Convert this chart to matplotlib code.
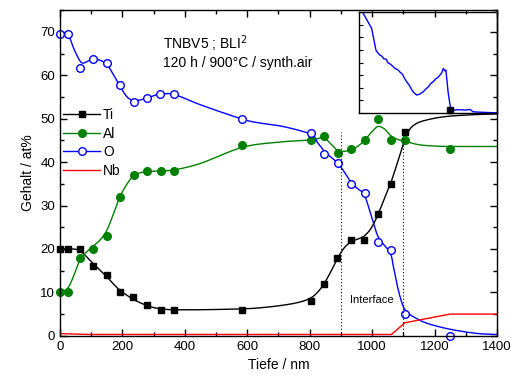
import matplotlib
matplotlib.use("Agg")
import matplotlib.pyplot as plt
import numpy as np
from matplotlib.ticker import MultipleLocator

plt.rcParams['font.family'] = ['Liberation Sans', 'DejaVu Sans']

# measured points
ti_x = [0, 25, 64, 107, 150, 192, 235, 278, 322, 365, 584, 803, 846, 889, 932, 975, 1018, 1061, 1104, 1250]
ti_y = [20, 20, 20, 16, 14, 10, 9, 7, 6, 6, 6, 8, 12, 18, 22, 22, 28, 35, 47, 52]

al_x = [0, 25, 64, 107, 150, 192, 237, 279, 322, 365, 584, 804, 847, 891, 933, 976, 1019, 1061, 1104, 1250]
al_y = [10, 10, 18, 20, 23, 32, 37, 38, 38, 38, 44, 45, 46, 42, 43, 45, 50, 45, 45, 43]

o_x = [0, 25, 64, 107, 150, 192, 236, 279, 321, 365, 584, 804, 847, 891, 933, 976, 1018, 1061, 1105, 1250]
o_y = [69.4, 69.4, 61.6, 63.8, 62.8, 57.7, 53.8, 54.8, 55.7, 55.7, 49.9, 46.8, 41.8, 39.7, 34.9, 32.8, 21.7, 19.7, 5, 0]

nb_x = [0, 100, 1062, 1105, 1250, 1400]
nb_y = [0.5, 0.3, 0.3, 3, 5, 5]

# fitted guide curves
ti_fit_x = [0, 40, 64, 85, 107, 130, 150, 170, 192, 215, 235, 257, 278, 300, 322, 345, 365, 450, 584, 650,
            720, 770, 803, 825, 846, 868, 889, 910, 932, 955, 975, 997, 1018, 1040, 1061, 1084, 1104, 1121,
            1140, 1164, 1207, 1250, 1292, 1350, 1400]
ti_fit_y = [20, 20, 19.6, 18.2, 16.6, 15, 13.6, 12, 10.5, 9.3, 8.4, 7.6, 7, 6.5, 6.2, 6.05, 6, 6, 6.2, 6.5,
            7.1, 7.8, 8.7, 10, 12, 14.8, 17.8, 20.2, 21.6, 22.3, 23, 24.8, 27.8, 31.8, 35.5, 40.5, 45, 47.6,
            48.8, 49.5, 50.2, 50.6, 50.8, 51, 51.1]

al_fit_x = [0, 25, 45, 64, 85, 107, 130, 150, 170, 192, 215, 237, 260, 279, 322, 365, 450, 584, 700, 804,
            830, 847, 870, 891, 912, 933, 955, 976, 998, 1019, 1040, 1061, 1083, 1104, 1150, 1200, 1250, 1400]
al_fit_y = [10, 11, 14, 17.5, 19.3, 20.7, 22.2, 24.3, 27.8, 32, 35, 36.9, 37.6, 37.8, 38, 38.2, 39.7, 43.4,
            44.6, 45.1, 45.5, 45.6, 44, 42.6, 42.5, 42.8, 43.7, 45, 46.9, 48.2, 47.6, 46, 45.2, 44.8, 44,
            43.7, 43.6, 43.6]

o_fit_x = [0, 25, 45, 64, 75, 90, 107, 130, 150, 170, 192, 215, 236, 256, 279, 300, 321, 365, 450, 584,
           641, 715, 804, 825, 847, 870, 891, 912, 933, 955, 976, 1004, 1018, 1035, 1047, 1061, 1068, 1084,
           1100, 1115, 1132, 1175, 1250, 1335, 1400]
o_fit_y = [69.5, 69.4, 66, 63.3, 62.8, 63.3, 63.7, 63.4, 62.5, 60.3, 57.5, 55, 54.2, 54.3, 54.8, 55.3, 55.6,
           55.6, 53.2, 49.9, 49.0, 48.2, 46.4, 44.5, 42.5, 41, 39.7, 37.6, 35.3, 33.8, 32.3, 26, 23, 21.2,
           20.2, 18.5, 16, 10.5, 6.7, 5.3, 4.4, 2.9, 1.5, 0.55, 0.3]

# inset profile (inset units)
ins_x = [0.031, 0.058, 0.092, 0.109, 0.123, 0.135, 0.152, 0.165, 0.180, 0.196, 0.210, 0.225, 0.249, 0.262,
         0.280, 0.297, 0.315, 0.330, 0.346, 0.365, 0.384, 0.400, 0.418, 0.440, 0.466, 0.485, 0.505, 0.520,
         0.538, 0.555, 0.570, 0.587, 0.600, 0.611, 0.622, 0.630, 0.647, 0.664, 0.683, 0.720, 0.768, 0.804,
         0.828, 0.900, 0.998]
ins_y = [7.90, 7.37, 6.71, 5.78, 4.99, 4.80, 4.59, 4.52, 4.30, 4.28, 3.98, 3.90, 3.67, 3.52, 3.45, 3.25,
         3.08, 2.75, 2.48, 2.20, 1.82, 1.60, 1.43, 1.50, 1.69, 1.92, 2.10, 2.35, 2.48, 2.70, 2.80, 3.01,
         3.20, 3.54, 3.35, 3.41, 1.56, 0.37, 0.24, 0.27, 0.24, 0.29, 0.10, 0.06, 0.02]


def smooth(xs, ys, n=8):
    # catmull-rom through the read-off guide points, just for drawing
    p = np.column_stack([xs, ys]).astype(float)
    p = np.vstack([p[0], p, p[-1]])
    out = []
    for i in range(1, len(p) - 2):
        p0, p1, p2, p3 = p[i - 1], p[i], p[i + 1], p[i + 2]
        for t in np.linspace(0, 1, n, endpoint=False):
            out.append(0.5 * (2 * p1 + (p2 - p0) * t + (2 * p0 - 5 * p1 + 4 * p2 - p3) * t ** 2
                              + (3 * p1 - p0 - 3 * p2 + p3) * t ** 3))
    out.append(p[-2])
    out = np.array(out)
    return out[:, 0], out[:, 1]


fig = plt.figure(figsize=(5.15, 3.9), dpi=100)
ax = fig.add_axes([0.1165, 0.139, 0.8485, 0.835])
axin = fig.add_axes([0.697, 0.710, 0.268, 0.259])
axin.set_zorder(0)
ax.set_zorder(1)
ax.patch.set_visible(False)

green = '#008000'
ax.plot(*smooth(ti_fit_x, ti_fit_y), color='black', lw=1)
ax.plot(*smooth(al_fit_x, al_fit_y), color=green, lw=1)
ax.plot(*smooth(o_fit_x, o_fit_y), color='blue', lw=1)
ax.plot(ti_x, ti_y, 's', color='black', ms=5, clip_on=False)
ax.plot(al_x, al_y, 'o', color=green, ms=5.5, clip_on=False)
ax.plot(o_x, o_y, 'o', mfc='white', mec='blue', mew=1, ms=5.5, clip_on=False)
ax.plot(nb_x, nb_y, color='red', lw=1)

# legend proxies
ax.plot([], [], '-s', color='black', ms=5, lw=1, label='Ti')
ax.plot([], [], '-o', color=green, ms=5.5, lw=1, label='Al')
ax.plot([], [], '-o', color='blue', mfc='white', ms=5.5, lw=1, label='O')
ax.plot([], [], '-', color='red', lw=1, label='Nb')
handles, labels = ax.get_legend_handles_labels()
ax.legend(handles[-4:], labels[-4:], loc='upper left', bbox_to_anchor=(0.008, 0.70), frameon=False,
          fontsize=10, handlelength=2.6, handletextpad=0.25, labelspacing=0.34, borderpad=0, borderaxespad=0)

ax.vlines([900, 1100], 0, 47, colors='black', linestyles=(0, (1, 2)), lw=0.8)
ax.text(1000, 8.2, 'Interface', ha='center', va='center', fontsize=8)
ax.text(330, 67.3, 'TNBV5 ; BLI$^2$', fontsize=10, va='center')
ax.text(330, 62.8, '120 h / 900\u00b0C / synth.air', fontsize=10, va='center')

ax.set_xlim(0, 1400)
ax.set_ylim(0, 75)
ax.xaxis.set_major_locator(MultipleLocator(200))
ax.xaxis.set_minor_locator(MultipleLocator(100))
ax.yaxis.set_major_locator(MultipleLocator(10))
ax.yaxis.set_minor_locator(MultipleLocator(5))
ax.tick_params(which='both', direction='in', top=True, right=True, labelsize=9.5, width=1)
ax.tick_params(which='major', length=5)
ax.tick_params(which='minor', length=3)
ax.set_xlabel('Tiefe / nm', fontsize=10)
ax.set_ylabel('Gehalt / at%', fontsize=10)
for s in ax.spines.values():
    s.set_linewidth(1)

axin.plot(ins_x, ins_y, color='blue', lw=1)
axin.set_xlim(0, 1)
axin.set_ylim(0, 8)
axin.set_xticks([])
axin.set_yticks(range(1, 8))
axin.tick_params(axis='y', direction='in', length=3, labelleft=False)
for s in axin.spines.values():
    s.set_linewidth(1)

fig.savefig('out.png', dpi=100)
